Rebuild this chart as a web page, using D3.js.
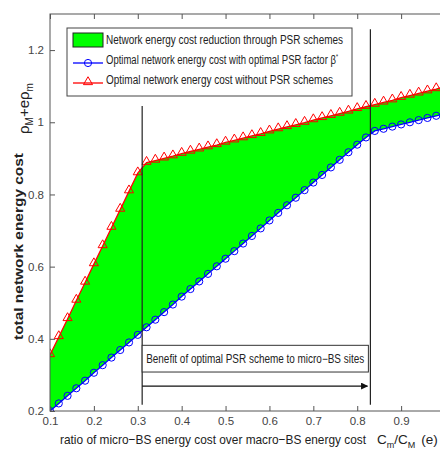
<!DOCTYPE html>
<html>
<head>
<meta charset="utf-8">
<script src="https://cdn.jsdelivr.net/npm/d3@7"></script>
<style>
  body { margin: 0; background: #fff; }
  text { font-family: "Liberation Sans", Arial, sans-serif; }
</style>
</head>
<body>
<div class="chart"></div>
<script>
// ratio e = Cm/CM
var eRatio = [0.10, 0.12, 0.14, 0.16, 0.18, 0.20, 0.22, 0.24, 0.26, 0.28,
  0.30, 0.32, 0.34, 0.36, 0.38, 0.40, 0.42, 0.44, 0.46, 0.48,
  0.50, 0.52, 0.54, 0.56, 0.58, 0.60, 0.62, 0.64, 0.66, 0.68,
  0.70, 0.72, 0.74, 0.76, 0.78, 0.80, 0.82, 0.84, 0.86, 0.88,
  0.90, 0.92, 0.94, 0.96, 0.98, 1.00];

// optimal network energy cost without PSR schemes (red)
var costNoPSR = [0.355, 0.405, 0.455, 0.506, 0.556, 0.607, 0.657, 0.708, 0.758, 0.809,
  0.859, 0.888, 0.894, 0.900, 0.906, 0.913, 0.919, 0.925, 0.931, 0.937,
  0.944, 0.950, 0.956, 0.962, 0.968, 0.975, 0.981, 0.987, 0.993, 0.999,
  1.006, 1.012, 1.018, 1.024, 1.030, 1.037, 1.043, 1.049, 1.055, 1.061,
  1.068, 1.074, 1.080, 1.086, 1.092, 1.099];

// optimal network energy cost with optimal PSR factor (blue)
var costPSR = [0.200, 0.221, 0.242, 0.263, 0.284, 0.306, 0.327, 0.348, 0.369, 0.390,
  0.411, 0.432, 0.453, 0.474, 0.495, 0.517, 0.538, 0.559, 0.580, 0.601,
  0.622, 0.643, 0.664, 0.685, 0.706, 0.728, 0.749, 0.770, 0.791, 0.812,
  0.833, 0.854, 0.875, 0.896, 0.917, 0.938, 0.958, 0.976, 0.982, 0.988,
  0.994, 1.000, 1.006, 1.012, 1.018, 1.024];

var xTicks = [0.1, 0.2, 0.3, 0.4, 0.5, 0.6, 0.7, 0.8, 0.9];
var yTicks = [0.2, 0.4, 0.6, 0.8, 1.0, 1.2];

// vertical markers and their top values
var markerE = [0.31, 0.83];
var markerTop = [1.045, 1.258];

var legendLabels = ["Network energy cost reduction through PSR schemes",
  "Optimal network energy cost with optimal PSR factor \u03b2",
  "Optimal network energy cost without PSR schemes"];

var svgWidth = 440;
var svgHeight = 452;

var margin = { top: 14, left: 50 };
var width = 395;
var height = 397;

var data = eRatio.map(function(e, i) {
  return { e: e, noPsr: costNoPSR[i], psr: costPSR[i] };
});

var svg = d3.select(".chart")
  .append("svg")
  .attr("width", svgWidth)
  .attr("height", svgHeight);

var chartGroup = svg.append("g")
  .attr("transform", `translate(${margin.left}, ${margin.top})`);

var xScale = d3.scaleLinear().domain([0.1, 1.0]).range([0, width]);
var yScale = d3.scaleLinear().domain([0.2, 1.3]).range([height, 0]);

chartGroup.append("clipPath")
  .attr("id", "plotclip")
  .append("rect")
  .attr("x", 0).attr("y", 0)
  .attr("width", width).attr("height", height);

var plot = chartGroup.append("g").attr("clip-path", "url(#plotclip)");

// green area between the two curves
var area = d3.area()
  .x(d => xScale(d.e))
  .y0(d => yScale(d.psr))
  .y1(d => yScale(d.noPsr));

plot.append("path")
  .datum(data)
  .attr("d", area)
  .attr("fill", "#00ff00");

// red line + triangles
var redLine = d3.line().x(d => xScale(d.e)).y(d => yScale(d.noPsr));
plot.append("path")
  .datum(data)
  .attr("d", redLine)
  .attr("fill", "none")
  .attr("stroke", "#ff0000")
  .attr("stroke-width", 1.3);

var tri = d3.symbol().type(d3.symbolTriangle).size(36);
plot.selectAll(".tri")
  .data(data)
  .enter()
  .append("path")
  .attr("class", "tri")
  .attr("d", tri)
  .attr("transform", d => `translate(${xScale(d.e)}, ${yScale(d.noPsr) - 1})`)
  .attr("fill", "none")
  .attr("stroke", "#ff0000")
  .attr("stroke-width", 1);

// blue line + circles
var blueLine = d3.line().x(d => xScale(d.e)).y(d => yScale(d.psr));
plot.append("path")
  .datum(data)
  .attr("d", blueLine)
  .attr("fill", "none")
  .attr("stroke", "#0000ff")
  .attr("stroke-width", 1.3);

plot.selectAll(".circ")
  .data(data)
  .enter()
  .append("circle")
  .attr("class", "circ")
  .attr("cx", d => xScale(d.e))
  .attr("cy", d => yScale(d.psr))
  .attr("r", 3.6)
  .attr("fill", "none")
  .attr("stroke", "#0000ff")
  .attr("stroke-width", 1);

// vertical marker lines
chartGroup.selectAll(".vline")
  .data(markerE)
  .enter()
  .append("line")
  .attr("class", "vline")
  .attr("x1", d => xScale(d))
  .attr("x2", d => xScale(d))
  .attr("y1", (d, i) => yScale(markerTop[i]))
  .attr("y2", yScale(0.217))
  .attr("stroke", "#222")
  .attr("stroke-width", 1.2);

// annotation box
var boxX0 = xScale(markerE[0]);
var boxX1 = xScale(markerE[1]) - 2;
chartGroup.append("rect")
  .attr("x", boxX0)
  .attr("y", yScale(0.382))
  .attr("width", boxX1 - boxX0)
  .attr("height", yScale(0.308) - yScale(0.382))
  .attr("fill", "#fff")
  .attr("stroke", "#333")
  .attr("stroke-width", 1);

chartGroup.append("text")
  .attr("x", boxX0 + 4)
  .attr("y", (yScale(0.382) + yScale(0.308)) / 2 + 4)
  .attr("font-size", 12)
  .attr("fill", "#222")
  .attr("textLength", 218)
  .attr("lengthAdjust", "spacingAndGlyphs")
  .text("Benefit of optimal PSR scheme to micro\u2212BS sites");

// arrow
svg.append("defs").append("marker")
  .attr("id", "arrowhead")
  .attr("viewBox", "0 0 10 10")
  .attr("refX", 9).attr("refY", 5)
  .attr("markerWidth", 7).attr("markerHeight", 7)
  .attr("markerUnits", "userSpaceOnUse")
  .attr("orient", "auto")
  .append("path")
  .attr("d", "M0,0 L10,5 L0,10 Z")
  .attr("fill", "#111");

chartGroup.append("line")
  .attr("x1", boxX0)
  .attr("x2", boxX1 - 1)
  .attr("y1", yScale(0.269))
  .attr("y2", yScale(0.269))
  .attr("stroke", "#111")
  .attr("stroke-width", 1.2)
  .attr("marker-end", "url(#arrowhead)");

// axes frame
chartGroup.append("rect")
  .attr("x", 0).attr("y", 0)
  .attr("width", width).attr("height", height)
  .attr("fill", "none")
  .attr("stroke", "#555")
  .attr("stroke-width", 1);

var bottomAxis = d3.axisBottom(xScale)
  .tickValues(xTicks)
  .tickSizeInner(-5)
  .tickSizeOuter(0)
  .tickPadding(6)
  .tickFormat(d3.format(".1f"));

var xAxis = chartGroup.append("g")
  .attr("transform", `translate(0, ${height})`)
  .call(bottomAxis);

var topAxis = d3.axisTop(xScale)
  .tickValues(xTicks)
  .tickSizeInner(-5)
  .tickSizeOuter(0)
  .tickFormat("");

var xAxisTop = chartGroup.append("g").call(topAxis);

var leftAxis = d3.axisLeft(yScale)
  .tickValues(yTicks)
  .tickSizeInner(-5)
  .tickSizeOuter(0)
  .tickPadding(6)
  .tickFormat(d => d === 1 ? "1" : d3.format(".1f")(d));

var yAxis = chartGroup.append("g").call(leftAxis);

[xAxis, xAxisTop, yAxis].forEach(function(ax) {
  ax.select(".domain").remove();
  ax.selectAll(".tick line").attr("stroke", "#555");
  ax.selectAll("text")
    .attr("font-size", 11.5)
    .attr("fill", "#444")
    .attr("font-family", "Liberation Sans, Arial, sans-serif");
});

// legend
var legend = chartGroup.append("g")
  .attr("transform", "translate(17, 14)");

legend.append("rect")
  .attr("x", 0).attr("y", 0)
  .attr("width", 285).attr("height", 68)
  .attr("fill", "#fff")
  .attr("stroke", "#444")
  .attr("stroke-width", 1);

legend.append("rect")
  .attr("x", 6).attr("y", 5)
  .attr("width", 30).attr("height", 14)
  .attr("fill", "#00ff00")
  .attr("stroke", "#222")
  .attr("stroke-width", 1);

legend.append("line")
  .attr("x1", 6).attr("x2", 36)
  .attr("y1", 35).attr("y2", 35)
  .attr("stroke", "#0000ff").attr("stroke-width", 1.3);
legend.append("circle")
  .attr("cx", 21).attr("cy", 35).attr("r", 3.6)
  .attr("fill", "none").attr("stroke", "#0000ff");

legend.append("line")
  .attr("x1", 6).attr("x2", 36)
  .attr("y1", 55).attr("y2", 55)
  .attr("stroke", "#ff0000").attr("stroke-width", 1.3);
legend.append("path")
  .attr("d", tri)
  .attr("transform", "translate(21, 54)")
  .attr("fill", "none").attr("stroke", "#ff0000");

var legendLen = [237, 232, 227];
var legendText = legend.selectAll(".ltext")
  .data(legendLabels)
  .enter()
  .append("text")
  .attr("class", "ltext")
  .attr("x", 39)
  .attr("y", (d, i) => 16 + i * 20)
  .attr("font-size", 12.5)
  .attr("fill", "#222")
  .attr("textLength", (d, i) => legendLen[i])
  .attr("lengthAdjust", "spacingAndGlyphs")
  .text(d => d);

// superscript star on beta
legendText.filter((d, i) => i === 1)
  .append("tspan")
  .attr("dy", -5)
  .attr("font-size", 7)
  .text("*");

// x axis label
svg.append("text")
  .attr("x", 60)
  .attr("y", 444)
  .attr("font-size", 13.5)
  .attr("fill", "#222")
  .attr("textLength", 306)
  .attr("lengthAdjust", "spacingAndGlyphs")
  .text("ratio of micro\u2212BS energy cost over macro\u2212BS energy cost");

var cLabel = svg.append("text")
  .attr("x", 377)
  .attr("y", 444)
  .attr("font-size", 13.5)
  .attr("fill", "#222");
cLabel.append("tspan").text("C");
cLabel.append("tspan").attr("dy", 4).attr("font-size", 9).text("m");
cLabel.append("tspan").attr("dy", -4).text("/C");
cLabel.append("tspan").attr("dy", 4).attr("font-size", 9).text("M");
cLabel.append("tspan").attr("dy", -4).attr("dx", 6).text("(e)");

// y axis labels
svg.append("text")
  .attr("transform", "translate(23, 340) rotate(-90)")
  .attr("font-size", 13.5)
  .attr("font-weight", "bold")
  .attr("fill", "#222")
  .attr("textLength", 187)
  .attr("lengthAdjust", "spacingAndGlyphs")
  .text("total network energy cost");

var rhoLabel = svg.append("text")
  .attr("transform", "translate(29, 134) rotate(-90)")
  .attr("font-size", 15)
  .attr("fill", "#222");
rhoLabel.append("tspan").text("\u03c1");
rhoLabel.append("tspan").attr("dy", 4).attr("font-size", 10).text("M");
rhoLabel.append("tspan").attr("dy", -4).text("+e\u03c1");
rhoLabel.append("tspan").attr("dy", 4).attr("font-size", 10).text("m");
</script>
</body>
</html>
